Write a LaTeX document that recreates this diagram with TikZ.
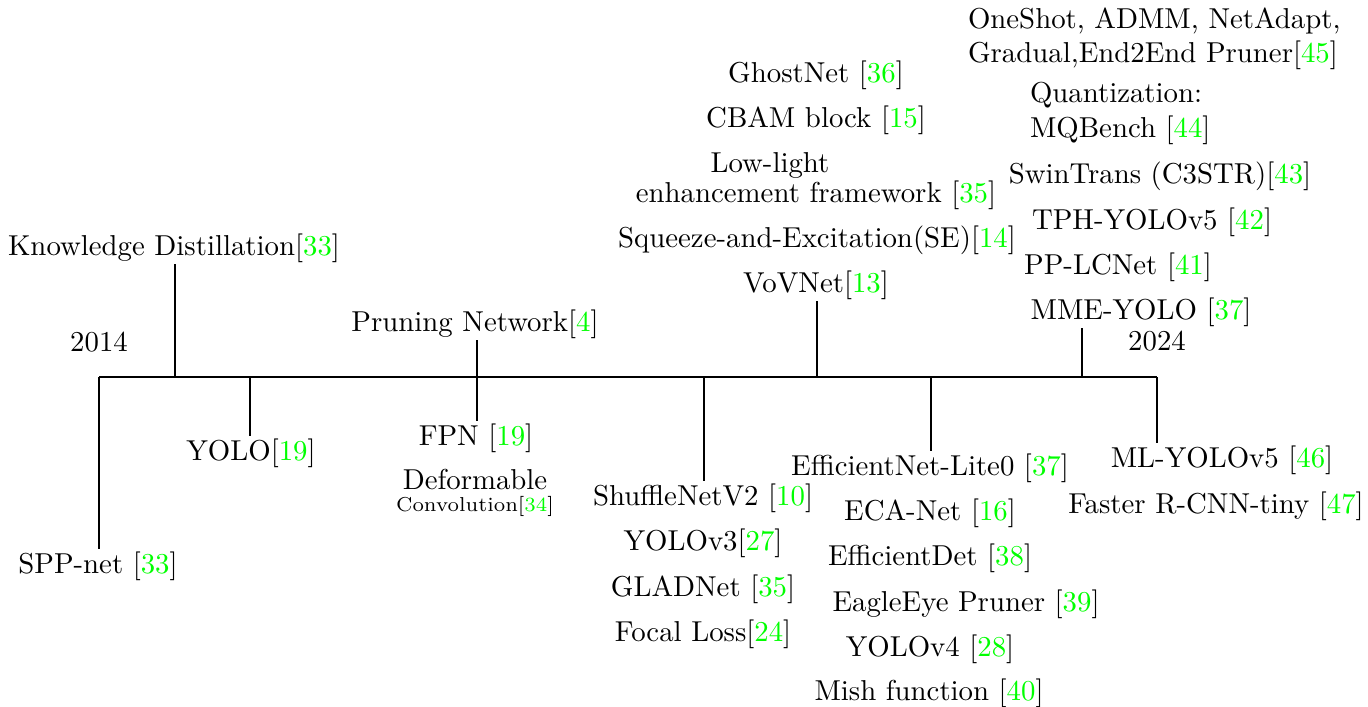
\documentclass[tikz,border=0pt]{standalone}
\usepackage{xcolor}
\newcommand\rf[1]{[\textcolor{green}{#1}]}
\begin{document}
\begin{tikzpicture}[x=0.3472pt,y=-0.3472pt,
  lbl/.style={anchor=base,inner sep=0.5pt,font=\fontsize{10}{12}\selectfont},
  lblw/.style={lbl,anchor=base west,align=left},
  tick/.style={line width=0.4pt,draw=black}]
\useasboundingbox (0,0) rectangle (1368,706);

% timeline and the points where the branches meet it
\coordinate (ts) at (99,377);
\coordinate (te) at (1157,377);
\coordinate (c1) at (99,377);
\coordinate (c2) at (175,377);
\coordinate (c3) at (250,377);
\coordinate (c4) at (477,377);
\coordinate (c5) at (704,377);
\coordinate (c6) at (817,377);
\coordinate (c7) at (931,377);
\coordinate (c8) at (1082,377);
\coordinate (c9) at (1157,377);
\draw[tick] (ts) -- (te);

% years
\node[lbl] (y1) at (99,351) {2014};
\node[lbl] (y2) at (1157,350) {2024};

% left part
\node[lbl] (kd) at (174,255) {Knowledge Distillation\rf{33}};
\node[lbl] (spp) at (98,573) {SPP-net \rf{33}};
\node[lbl] (yolo) at (251,460) {YOLO\rf{19}};
\node[lbl] (prune) at (475,331) {Pruning Network\rf{4}};
\node[lbl] (fpn) at (476,445) {FPN \rf{19}};
\node[lbl,align=center] (deform) at (475,511) {Deformable\\[-4.4pt]{\scriptsize Convolution\rf{34}}};

% branch below 2017-2018
\node[lbl] (shuf) at (703,505) {ShuffleNetV2 \rf{10}};
\node[lbl] (yolo3) at (703,550) {YOLOv3\rf{27}};
\node[lbl] (glad) at (703,596) {GLADNet \rf{35}};
\node[lbl] (focal) at (703,641) {Focal Loss\rf{24}};

% branch above 2019
\node[lbl] (ghost) at (816,82) {GhostNet \rf{36}};
\node[lbl] (cbam) at (816,127) {CBAM block \rf{15}};
\node[lbl,align=center] (lowl) at (816,202) {Low-light\hspace*{32pt}\\[-1.6pt]enhancement framework \rf{35}};
\node[lbl] (se) at (817,247) {Squeeze-and-Excitation(SE)\rf{14}};
\node[lbl] (vov) at (816,292) {VoVNet\rf{13}};

% branch below 2020
\node[lbl] (effl) at (930,475) {EfficientNet-Lite0 \rf{37}};
\node[lbl] (eca) at (930,520) {ECA-Net \rf{16}};
\node[lbl] (effd) at (930,565) {EfficientDet \rf{38}};
\node[lbl] (eagle) at (966,611) {EagleEye Pruner \rf{39}};
\node[lbl] (yolo4) at (930,656) {YOLOv4 \rf{28}};
\node[lbl] (mish) at (929,700) {Mish function \rf{40}};

% branch above 2022-2023
\node[lblw] (oneshot) at (966,62) {OneShot, ADMM, NetAdapt,\\[-0.5pt]Gradual,End2End Pruner\rf{45}};
\node[lblw] (quant) at (1028,137) {Quantization:\\MQBench \rf{44}};
\node[lbl] (swin) at (1160,183) {SwinTrans (C3STR)\rf{43}};
\node[lbl] (tph) at (1152,229) {TPH-YOLOv5 \rf{42}};
\node[lbl] (pplc) at (1118,274) {PP-LCNet \rf{41}};
\node[lbl] (mme) at (1141,319) {MME-YOLO \rf{37}};

% branch below 2024
\node[lbl] (mly) at (1222,467) {ML-YOLOv5 \rf{46}};
\node[lbl] (frcnn) at (1216,513) {Faster R-CNN-tiny \rf{47}};

% branches
\draw[tick] (c1) -- (c1 |- spp.north);
\draw[tick] (kd.south -| c2) -- (c2);
\draw[tick] (c3) -- (c3 |- yolo.north);
\draw[tick] (prune.south -| c4) -- (c4 |- fpn.north);
\draw[tick] (c5) -- (c5 |- shuf.north);
\draw[tick] (vov.south -| c6) -- (c6);
\draw[tick] (c7) -- (c7 |- effl.north);
\draw[tick] (mme.south -| c8) -- (c8);
\draw[tick] (c9) -- (c9 |- mly.north);
\end{tikzpicture}
\end{document}
